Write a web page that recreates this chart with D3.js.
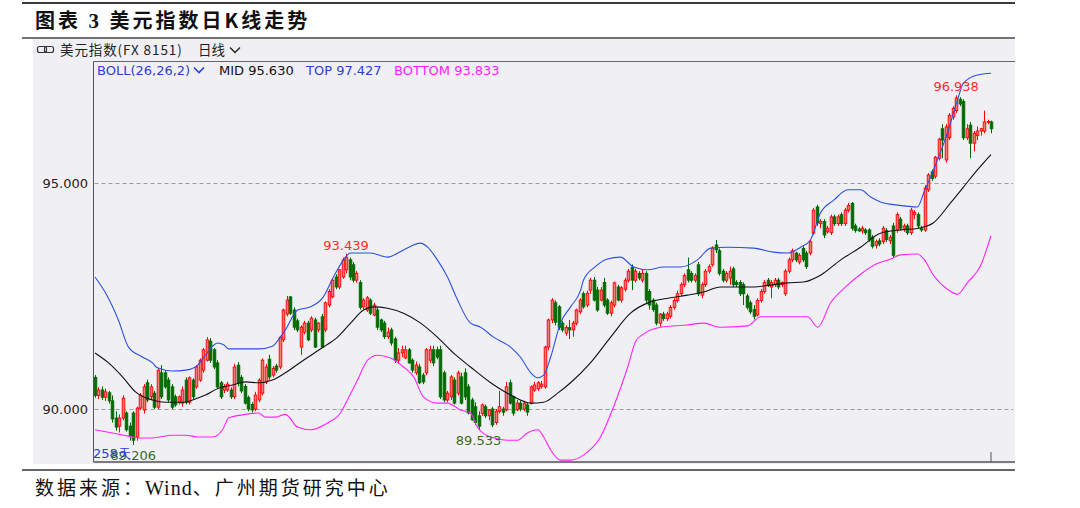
<!DOCTYPE html>
<html><head><meta charset="utf-8">
<script src="https://cdn.jsdelivr.net/npm/d3@7"></script>
<style>html,body{margin:0;padding:0;background:#fff;} svg{display:block;}</style>
</head><body>
<svg id="c" width="1080" height="508"></svg>
<script>
// ---------------- data ----------------
const titleParts = ["图表 ", "3", " 美元指数日K线走势"];
const sourceParts = ["数据来源：", "Wind", "、广州期货研究中心"];
const instrumentText = "美元指数(FX 8151)";
const periodText = "日线";
const bollText = "BOLL(26,26,2)";
const legendNames = ["MID", "TOP", "BOTTOM"];
const legendValues = ["95.630", "97.427", "93.833"];
const yTicks = [90, 95];
const dayCountText = "258天";

// [open, high, low, close] per trading day
const ohlc = [
[90.70,90.75,90.25,90.30],[90.30,90.48,90.22,90.42],[90.42,90.50,90.20,90.26],[90.26,90.45,90.18,90.38],
[90.36,90.40,90.12,90.18],[90.18,90.30,89.70,89.78],[89.80,89.95,89.52,89.60],[89.62,89.88,89.48,89.80],
[89.80,90.30,89.75,90.24],[89.91,89.95,89.50,89.54],[89.62,89.70,89.30,89.40],[89.91,89.95,89.206,89.31],
[89.38,90.05,89.30,90.02],[90.02,90.35,89.98,90.31],[89.98,90.55,89.90,90.49],[90.58,90.65,90.15,90.20],
[90.27,90.55,90.22,90.49],[90.35,90.40,90.00,90.04],[90.04,90.90,90.00,90.86],[90.80,90.97,90.22,90.27],
[90.80,90.85,90.45,90.49],[90.64,90.70,90.15,90.20],[90.49,90.55,90.00,90.04],[90.27,90.32,90.05,90.09],
[90.15,90.30,90.10,90.27],[90.13,90.50,90.05,90.42],[90.64,90.70,90.10,90.15],[90.15,90.72,90.10,90.69],
[90.64,90.68,90.22,90.27],[90.49,90.97,90.45,90.93],[90.64,91.12,90.60,91.08],[90.86,91.35,90.80,91.31],
[91.08,91.59,91.05,91.53],[91.50,91.57,91.02,91.08],[91.31,91.35,90.88,90.93],[91.02,91.08,90.45,90.49],
[90.58,90.62,90.22,90.27],[90.42,90.55,90.35,90.49],[90.42,90.60,90.38,90.55],[90.42,90.48,90.22,90.27],
[90.27,91.00,90.22,90.93],[90.97,91.04,90.50,90.58],[90.70,90.75,90.35,90.40],[90.50,90.55,90.10,90.13],
[90.25,90.30,89.95,90.00],[90.10,90.15,89.92,89.98],[90.00,90.38,89.95,90.31],[90.20,90.68,90.15,90.64],
[90.35,91.12,90.30,91.08],[90.60,91.00,90.55,90.93],[91.10,91.20,90.65,90.71],[90.75,90.95,90.70,90.90],
[90.95,91.00,90.80,90.86],[90.93,91.62,90.88,91.59],[91.53,92.22,91.48,92.19],[92.10,92.50,92.05,92.41],
[92.48,92.50,92.08,92.12],[92.19,92.25,91.75,91.81],[91.95,92.00,91.70,91.75],[91.37,91.85,91.20,91.81],
[91.70,91.95,91.65,91.90],[91.90,91.95,91.50,91.53],[91.75,92.05,91.70,92.01],[91.97,92.02,91.35,91.37],
[91.75,91.92,91.70,91.90],[92.04,92.10,91.35,91.37],[91.75,92.38,91.70,92.35],[92.30,92.65,92.25,92.60],
[92.48,92.90,92.45,92.85],[92.92,92.98,92.65,92.70],[92.70,93.10,92.65,93.08],[92.92,93.35,92.88,93.30],
[93.08,93.439,93.00,93.36],[93.30,93.35,92.85,92.92],[93.19,93.25,92.80,92.85],[92.85,93.05,92.80,93.00],
[92.80,92.85,92.20,92.25],[92.26,92.45,92.20,92.41],[92.19,92.50,92.15,92.46],[92.41,92.45,92.08,92.12],
[92.08,92.35,92.05,92.30],[92.19,92.25,91.75,91.81],[91.97,92.00,91.70,91.75],[91.90,91.95,91.55,91.60],
[91.60,91.80,91.55,91.70],[91.75,91.80,91.40,91.46],[91.55,91.60,91.02,91.08],[91.08,91.35,91.00,91.24],
[91.24,91.40,91.15,91.31],[91.13,91.40,91.10,91.31],[91.31,91.35,91.00,91.02],[91.08,91.12,90.80,90.86],
[90.80,91.05,90.75,90.97],[90.93,91.00,90.55,90.58],[90.75,90.80,90.55,90.60],[90.80,91.35,90.75,91.31],
[91.08,91.40,91.02,91.31],[91.31,91.40,90.95,91.02],[91.31,91.38,91.10,91.15],[91.31,91.40,90.22,90.27],
[90.80,90.85,90.15,90.20],[90.20,90.40,90.15,90.35],[90.27,90.75,90.20,90.71],[90.64,90.70,90.10,90.13],
[90.35,90.85,90.30,90.80],[90.71,90.80,90.10,90.13],[90.80,90.90,90.20,90.27],[90.49,90.55,89.88,89.91],
[90.20,90.25,89.74,89.76],[90.05,90.15,89.65,89.70],[89.85,89.95,89.533,89.62],[89.90,90.12,89.85,90.09],
[90.05,90.10,89.80,89.85],[89.85,90.00,89.75,89.98],[90.00,90.05,89.60,89.65],[89.70,90.00,89.65,89.95],
[89.95,90.40,89.90,90.05],[90.00,90.05,89.85,89.93],[89.98,90.60,89.95,90.49],[90.58,90.65,90.10,90.13],
[90.27,90.30,89.85,89.91],[89.98,90.20,89.95,90.13],[90.13,90.18,89.95,90.00],[90.00,90.18,89.95,90.12],
[90.09,90.15,89.85,89.93],[90.13,90.52,90.10,90.49],[90.42,90.60,90.38,90.53],[90.45,90.62,90.40,90.58],
[90.50,90.62,90.45,90.55],[90.49,91.40,90.45,91.37],[91.37,92.00,91.30,91.97],[91.97,92.45,91.90,92.41],
[92.35,92.40,91.85,91.92],[92.26,92.30,91.75,91.81],[91.90,91.95,91.70,91.75],[91.68,91.85,91.62,91.80],
[91.80,91.97,91.55,91.75],[91.75,91.95,91.60,91.90],[91.90,92.22,91.85,92.19],[92.15,92.45,92.10,92.41],
[92.55,92.60,92.22,92.26],[92.30,92.62,92.25,92.56],[92.63,92.90,92.55,92.85],[92.85,92.92,92.38,92.41],
[92.63,92.70,92.15,92.19],[92.41,92.70,92.38,92.63],[92.80,92.90,92.25,92.30],[92.41,92.45,92.08,92.12],
[92.12,92.40,92.05,92.35],[92.30,92.82,92.25,92.79],[92.70,92.75,92.38,92.41],[92.41,92.72,92.35,92.68],
[92.65,92.90,92.60,92.85],[92.85,93.10,92.80,93.05],[93.14,93.20,92.63,92.85],[92.85,93.10,92.80,93.05],
[93.00,93.05,92.85,92.90],[92.85,93.08,92.80,93.00],[93.00,93.05,92.35,92.41],[92.60,92.65,92.20,92.30],
[92.41,92.45,92.15,92.20],[92.30,92.35,91.85,91.90],[91.90,92.12,91.82,92.10],[92.10,92.15,91.95,92.00],
[92.00,92.15,91.95,92.10],[92.05,92.30,92.00,92.25],[92.25,92.45,92.20,92.40],[92.40,92.62,92.35,92.55],
[92.55,92.80,92.50,92.75],[92.75,93.00,92.70,92.95],[93.08,93.35,92.80,92.85],[93.00,93.05,92.80,92.85],
[92.85,93.00,92.80,92.95],[93.19,93.25,92.50,92.55],[92.52,92.80,92.45,92.75],[92.75,93.10,92.70,93.05],
[93.05,93.20,93.00,93.15],[93.19,93.60,93.15,93.56],[93.63,93.74,93.45,93.52],[93.50,93.55,92.95,93.00],
[93.05,93.10,92.80,92.85],[92.85,93.05,92.80,93.00],[92.90,93.15,92.75,93.05],[93.10,93.15,92.70,92.75],
[92.80,92.85,92.70,92.75],[92.80,92.85,92.50,92.55],[92.75,92.80,92.30,92.55],[92.50,92.55,92.20,92.25],
[92.35,92.40,92.10,92.15],[92.20,92.30,91.98,92.05],[92.08,92.45,92.05,92.40],[92.40,92.65,92.35,92.60],
[92.60,92.85,92.55,92.80],[92.85,92.90,92.70,92.75],[92.70,92.85,92.45,92.80],[92.75,92.90,92.70,92.85],
[92.85,92.90,92.65,92.70],[92.75,92.82,92.70,92.80],[92.55,93.10,92.50,93.05],[93.05,93.35,93.00,93.30],
[93.30,93.55,93.25,93.50],[93.45,93.48,93.25,93.30],[93.25,93.45,93.20,93.40],[93.55,93.60,93.25,93.30],
[93.45,93.50,93.10,93.15],[93.45,93.75,93.40,93.70],[93.89,94.45,93.85,94.40],[94.47,94.52,94.05,94.12],
[94.10,94.20,94.00,94.15],[94.15,94.20,93.78,93.85],[93.92,94.05,93.88,94.00],[93.90,94.30,93.85,94.25],
[94.25,94.30,94.05,94.10],[94.10,94.30,94.05,94.25],[94.30,94.35,94.05,94.10],[94.10,94.45,94.05,94.40],
[94.40,94.56,94.35,94.50],[94.55,94.58,93.95,94.00],[94.05,94.10,93.90,93.95],[93.98,94.02,93.92,93.94],
[93.94,94.05,93.88,94.00],[93.96,94.00,93.85,93.90],[93.96,94.00,93.70,93.74],[93.80,93.85,93.55,93.60],
[93.62,93.75,93.55,93.70],[93.72,93.78,93.60,93.65],[93.70,94.05,93.65,94.00],[93.95,94.00,93.70,93.75],
[93.72,93.85,93.65,93.80],[94.05,94.12,93.34,93.40],[93.96,94.35,93.90,94.30],[94.20,94.25,93.95,94.00],
[94.00,94.10,93.92,94.05],[94.05,94.10,93.85,93.90],[93.90,94.45,93.85,94.40],[94.30,94.40,94.20,94.35],
[94.30,94.35,94.00,94.05],[94.00,94.05,93.92,93.96],[93.96,94.95,93.92,94.89],[94.85,95.22,94.80,95.18],
[95.25,95.30,95.05,95.10],[95.15,95.60,95.10,95.57],[95.55,96.00,95.50,95.97],[96.20,96.30,95.55,95.95],
[95.51,96.30,95.45,96.24],[96.00,96.55,95.95,96.50],[96.46,96.70,96.40,96.65],[96.60,96.938,96.55,96.88],
[96.85,96.90,96.70,96.75],[96.80,96.85,95.95,96.00],[96.00,96.30,95.95,96.20],[96.28,96.35,95.55,95.88],
[95.88,96.15,95.70,96.10],[96.05,96.25,95.95,96.15],[96.15,96.22,96.05,96.20],[96.15,96.60,96.10,96.35],
[96.35,96.40,96.30,96.36],[96.35,96.38,96.10,96.20]
];

// Bollinger band readings: [day index, value]
const bollMid = [[0,91.24],[3.9,91.02],[7.9,90.71],[11.6,90.38],[16.5,90.20],[20.2,90.15],[26,90.15],[28,90.20],
[31.7,90.31],[35.4,90.46],[39.4,90.53],[43.2,90.60],[46.9,90.58],[50.9,90.64],[54.6,90.80],[59.8,91.08],
[65.5,91.37],[69.6,91.59],[73.3,91.90],[77,92.19],[79.9,92.26],[83.9,92.23],[88.5,92.12],[93.4,91.90],
[98.2,91.59],[102.8,91.24],[107.7,90.93],[113.5,90.58],[119.2,90.31],[125,90.13],[128.7,90.15],[132.7,90.35],
[136.4,90.58],[142.1,91.02],[147.9,91.59],[153.6,92.12],[159.3,92.37],[165.1,92.46],[170,92.52],[174.6,92.59],
[179.4,92.70],[188.9,92.70],[193.8,92.74],[198.6,92.79],[203.2,92.81],[208.1,92.96],[213.9,93.30],[219.6,93.58],
[225.3,93.89],[231,93.96],[236.2,94.00],[240.5,94.12],[245.4,94.56],[249.1,94.91],[253.1,95.29],[257,95.63]];
const bollTop = [[0,92.92],[3,92.57],[6.7,91.97],[9.6,91.37],[13.6,91.15],[16.5,91.02],[17.9,90.91],[22.2,90.84],
[26,90.86],[28.8,90.93],[31.7,91.19],[33.7,91.39],[35.1,91.46],[36.9,91.42],[38.3,91.33],[43.2,91.33],[46.9,91.33],
[50.9,91.39],[52.6,91.53],[54.6,91.75],[58.1,92.19],[61.8,92.26],[65.5,92.48],[68.4,92.92],[71.3,93.30],[73.3,93.45],
[79,93.45],[83.9,93.36],[88.5,93.52],[93.4,93.67],[95.4,93.58],[98.2,93.30],[101.1,92.92],[104,92.41],[107.7,91.90],
[110.6,91.81],[114.3,91.59],[119.2,91.37],[122,91.15],[125,90.80],[126.9,90.69],[128.7,90.75],[130.7,91.15],
[133.5,91.90],[136.4,92.26],[139.3,92.63],[140.1,92.85],[143.5,93.15],[147,93.32],[150.7,93.36],[154.5,93.14],
[158.5,93.08],[163.1,93.14],[167.9,93.14],[172.8,93.30],[176.6,93.56],[181.4,93.58],[188.9,93.56],[194.6,93.47],
[198.6,93.45],[202.4,93.58],[205.2,93.74],[208.1,94.34],[211.9,94.62],[215.9,94.85],[219.6,94.85],[222.5,94.69],
[225.3,94.58],[230.2,94.51],[235.9,94.47],[237.7,94.78],[240.5,95.29],[244.5,96.11],[247.4,96.84],[249.1,97.21],
[253.1,97.39],[257,97.427]];
const bollBottom = [[0,89.54],[5,89.47],[9.6,89.40],[12.5,89.36],[16.5,89.36],[22.2,89.42],[26,89.42],[29.7,89.38],
[33.7,89.38],[36.6,89.54],[38.3,89.80],[42.3,89.87],[46.9,89.91],[48.9,89.82],[51.8,89.82],[54.6,89.88],[58.1,89.60],
[61.8,89.54],[66.7,89.69],[70.4,89.91],[72.4,90.20],[75.3,90.64],[78.2,91.08],[81,91.19],[84.8,91.13],[88.5,90.93],
[91.4,90.71],[94.2,90.27],[98.2,90.13],[101.1,90.13],[104.8,89.98],[107.7,89.91],[109.7,89.60],[113.5,89.38],
[118.3,89.31],[121.2,89.31],[124,89.47],[127,89.54],[128.7,89.38],[130.7,89.09],[133.5,88.87],[136.4,88.87],
[140.1,88.98],[145,89.38],[148.7,90.04],[152.8,90.93],[155.1,91.50],[157,91.64],[162.2,91.81],[170,91.86],
[174.6,91.90],[179.4,91.81],[187.2,91.84],[190.9,92.04],[195.8,92.04],[200.4,92.04],[204.4,92.04],[207.3,91.81],
[211,92.35],[215.3,92.70],[219.6,92.98],[223.9,93.20],[228.3,93.32],[231,93.41],[236,93.43],[237.7,93.32],
[240.5,92.96],[244.5,92.65],[247.4,92.54],[250.3,92.80],[254,93.17],[257,93.833]];

const extremes = [
  {day:72, value:93.439, kind:"high"},
  {day:247, value:96.938, kind:"high"},
  {day:110, value:89.533, kind:"low"},
  {day:11, value:89.206, kind:"low"}
];

// ---------------- drawing ----------------
const svg = d3.select("#c");
const plotL = 93.5, plotR = 1015, plotT = 61.5, plotB = 462;

const x = d3.scaleLinear().domain([0, ohlc.length - 1]).range([95, 991]);
const y = d3.scaleLinear().domain([90, 95]).range([409, 183]);

// page frame lines and title
svg.append("line").attr("x1",22).attr("x2",1015).attr("y1",3).attr("y2",3)
  .attr("stroke","#3a3a3a").attr("stroke-width",2);
const tt = svg.append("text").attr("x",35).attr("y",28)
  .attr("font-family","'Noto Sans CJK SC', sans-serif").attr("font-weight","bold")
  .attr("font-size",20).attr("fill","#111");
tt.append("tspan").attr("letter-spacing",3).text(titleParts[0]);
tt.append("tspan").attr("font-family","'Liberation Serif', serif").attr("font-size",21).attr("letter-spacing",3).text(titleParts[1]);
tt.append("tspan").attr("letter-spacing",3).text(titleParts[2]);
svg.append("line").attr("x1",22).attr("x2",1015).attr("y1",38).attr("y2",38)
  .attr("stroke","#444").attr("stroke-width",1.5);

// panel background
svg.append("rect").attr("x",33).attr("y",39).attr("width",982).attr("height",425).attr("fill","#f0f0f4");

// header row
const hdr = svg.append("g");
hdr.append("rect").attr("x",37.5).attr("y",46.5).attr("width",9).attr("height",6).attr("rx",2)
  .attr("fill","none").attr("stroke","#333").attr("stroke-width",1.2);
hdr.append("rect").attr("x",44.5).attr("y",46.5).attr("width",9).attr("height",6).attr("rx",2)
  .attr("fill","none").attr("stroke","#333").attr("stroke-width",1.2);
hdr.append("text").attr("x",60).attr("y",55).attr("font-family","'Noto Sans CJK SC', sans-serif")
  .attr("font-size",13.5).attr("letter-spacing",0.9).attr("fill","#222").text(instrumentText);
hdr.append("text").attr("x",198).attr("y",55).attr("font-family","'Noto Sans CJK SC', sans-serif")
  .attr("font-size",13.5).attr("fill","#222").text(periodText);
hdr.append("path").attr("d","M230,47.5 L235,52.5 L240,47.5").attr("fill","none")
  .attr("stroke","#222").attr("stroke-width",1.4);

// plot frame
svg.append("line").attr("x1",plotL).attr("x2",plotR).attr("y1",plotT).attr("y2",plotT)
  .attr("stroke","#666").attr("stroke-width",1);
svg.append("line").attr("x1",plotL).attr("x2",plotL).attr("y1",plotT).attr("y2",plotB)
  .attr("stroke","#555").attr("stroke-width",1);
svg.append("line").attr("x1",plotL).attr("x2",plotR).attr("y1",plotB).attr("y2",plotB)
  .attr("stroke","#555").attr("stroke-width",1.5);
svg.append("line").attr("x1",x(ohlc.length-1)).attr("x2",x(ohlc.length-1)).attr("y1",452).attr("y2",plotB)
  .attr("stroke","#555").attr("stroke-width",1);

// legend row
const lg = svg.append("g").attr("font-family","'DejaVu Sans', Verdana, sans-serif").attr("font-size",13);
lg.append("text").attr("x",97).attr("y",75).attr("fill","#2a3fd6").text(bollText);
lg.append("path").attr("d","M194,67.5 L199,72.5 L204,67.5").attr("fill","none").attr("stroke","#2a3fd6").attr("stroke-width",1.6);
const legendColors = ["#111", "#2a3fd6", "#ff1cff"];
const legendX = [219, 306, 394];
legendNames.forEach((n,i)=>{
  lg.append("text").attr("x",legendX[i]).attr("y",75).attr("fill",legendColors[i]).text(n + " " + legendValues[i]);
});

// y axis
const yAxis = d3.axisLeft(y).tickValues(yTicks).tickFormat(d3.format(".3f")).tickSize(0).tickPadding(0);
const ya = svg.append("g").attr("transform","translate(88,0)").call(yAxis);
ya.select(".domain").remove();
ya.selectAll("text").attr("font-family","'DejaVu Sans', Verdana, sans-serif").attr("font-size",13).attr("fill","#222");

// dashed grid
svg.append("g").selectAll("line").data(yTicks).join("line")
  .attr("x1",plotL+1).attr("x2",plotR-2).attr("y1",d=>Math.round(y(d))+0.5).attr("y2",d=>Math.round(y(d))+0.5)
  .attr("stroke","#9a9a9a").attr("stroke-width",1.2).attr("stroke-dasharray","4,3");

// bands
svg.append("clipPath").attr("id","pc").append("rect")
  .attr("x",plotL).attr("y",plotT).attr("width",plotR-plotL).attr("height",plotB-plotT);
const line = d3.line().x(d=>x(d[0])).y(d=>y(d[1])).curve(d3.curveMonotoneX);
const bands = svg.append("g").attr("clip-path","url(#pc)").attr("fill","none");
bands.append("path").datum(bollTop).attr("d",line).attr("stroke","#2a4fe0").attr("stroke-width",1.1);
bands.append("path").datum(bollBottom).attr("d",line).attr("stroke","#ff22ff").attr("stroke-width",1.1);

// candles
const bw = 2.6;
const cg = svg.append("g");
const up = d => d[3] >= d[0];
cg.selectAll("line.w").data(ohlc).join("line").attr("class","w")
  .attr("x1",(d,i)=>Math.round(x(i))+0.5).attr("x2",(d,i)=>Math.round(x(i))+0.5)
  .attr("y1",d=>y(d[1])).attr("y2",d=>y(d[2]))
  .attr("stroke",d=>up(d)?"#ff0000":"#006a00").attr("stroke-width",1);
cg.selectAll("rect.b").data(ohlc).join("rect").attr("class","b")
  .attr("x",(d,i)=>Math.round(x(i))+0.5-bw/2).attr("width",bw)
  .attr("y",d=>y(Math.max(d[0],d[3])))
  .attr("height",d=>Math.max(0.8, Math.abs(y(d[0])-y(d[3]))))
  .attr("fill",d=>up(d)?"#f27a7a":"#006a00")
  .attr("stroke",d=>up(d)?"#ff0000":"#006a00").attr("stroke-width",0.9);

// mid line drawn over candles
bands.raise();
svg.append("path").datum(bollMid).attr("d",line).attr("fill","none").attr("stroke","#111").attr("stroke-width",1.1)
  .attr("clip-path","url(#pc)");

// extreme labels
const lab = svg.append("g").attr("font-family","'DejaVu Sans', Verdana, sans-serif").attr("font-size",13)
  .attr("text-anchor","middle");
extremes.forEach(e=>{
  const t = lab.append("text").attr("x",x(e.day)).text(d3.format(".3f")(e.value));
  if (e.kind==="high") t.attr("y",y(e.value)-4).attr("fill","#ff2a2a");
  else t.attr("y",y(e.value)+15).attr("fill","#3b6b1e");
});
svg.append("text").attr("x",93).attr("y",458).attr("font-family","'DejaVu Sans', Verdana, sans-serif")
  .attr("font-size",13).attr("fill","#2a3fd6").text(dayCountText);

// bottom line and source
svg.append("line").attr("x1",22).attr("x2",1015).attr("y1",470).attr("y2",470)
  .attr("stroke","#333").attr("stroke-width",1.5);
const st = svg.append("text").attr("x",35).attr("y",495)
  .attr("font-family","'Noto Sans CJK SC', sans-serif").attr("font-size",19).attr("fill","#111");
st.append("tspan").attr("letter-spacing",3).text(sourceParts[0]);
st.append("tspan").attr("font-family","'Liberation Serif', serif").attr("font-size",20).attr("letter-spacing",1).text(sourceParts[1]);
st.append("tspan").attr("letter-spacing",3).text(sourceParts[2]);
</script>
</body></html>
